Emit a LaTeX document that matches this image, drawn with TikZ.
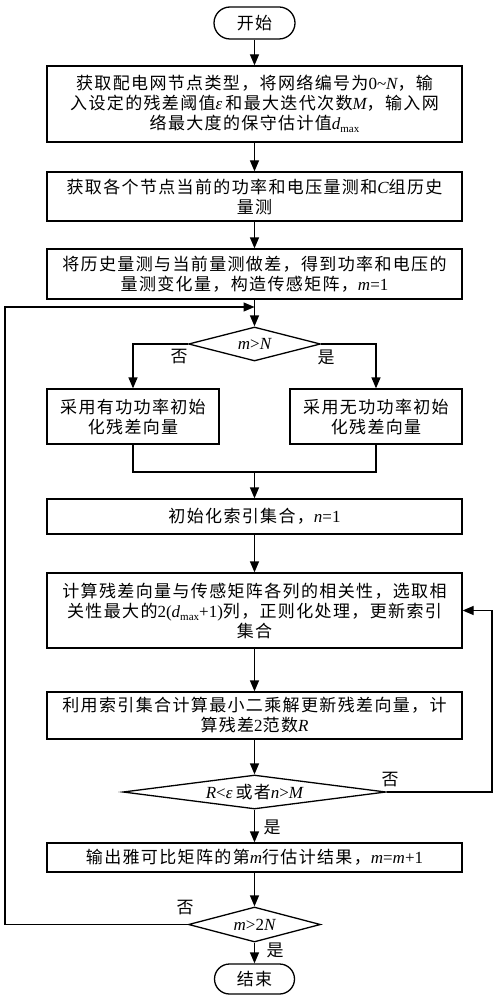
\documentclass[tikz,border=0pt]{standalone}
\usepackage{fontspec}
\setmainfont{Noto Sans CJK SC}[LetterSpace=8]
\newfontfamily\latfont{Liberation Serif}
\usetikzlibrary{arrows.meta,shapes.geometric}
\newcommand\itx[1]{{\latfont\itshape #1}}
\newcommand\rmx[1]{{\latfont #1}}
\newcommand\dmax{\itx{d}\raisebox{-0.35ex}{\latfont\fontsize{11}{11}\selectfont max}}
\tikzset{
  txt/.style={font=\fontsize{17}{20}\selectfont},
  box/.style={txt, draw, line width=1.3pt, minimum width=415pt, inner sep=0pt, align=center},
  term/.style={txt, draw, line width=1.3pt, inner sep=0pt},
  dec/.style={txt, draw, diamond, line width=1.3pt, inner sep=0pt},
  lab/.style={txt, inner sep=0pt},
  arr/.style={line width=1.3pt, -{Triangle[length=11pt,width=9pt]}},
  ln/.style={line width=1.3pt}
}
\begin{document}
\begin{tikzpicture}[x=1pt,y=-1pt]
\useasboundingbox[fill=white] (0,0) rectangle (497,1000);

\node[term, rounded corners=16pt, minimum width=81pt, minimum height=32pt] (start) at (254.5,23) {开始};

\node[box, minimum height=76pt] (b1) at (254.5,104)
 {获取配电网节点类型，将网络编号为\rmx{0\textasciitilde}\itx{N}，输\\
  入设定的残差阈值\itx{ε}\hspace{3pt}和最大迭代次数\itx{M}，输入网\\
  络最大度的保守估计值\dmax};

\node[box, minimum height=49pt] (b2) at (254.5,196.5)
 {获取各个节点当前的功率和电压量测和\itx{C}组历史\\量测};

\node[box, minimum height=50pt] (b3) at (254.5,274)
 {将历史量测与当前量测做差，得到功率和电压的\\量测变化量，构造传感矩阵，\itx{m}\rmx{=1}};

\node[dec, minimum width=132pt, minimum height=34pt, aspect=3.9] (d1) at (254.5,344)
 {\itx{m}\rmx{>}\itx{N}};

\node[box, minimum width=172pt, minimum height=55pt] (lb) at (133,416.5)
 {采用有功功率初始\\化残差向量};
\node[box, minimum width=172pt, minimum height=55pt] (rb) at (376,416.5)
 {采用无功功率初始\\化残差向量};

\node[box, minimum height=35pt] (b4) at (254.5,516.5)
 {初始化索引集合，\itx{n}\rmx{=1}};

\node[box, minimum height=75pt] (b5) at (254.5,610.5)
 {计算残差向量与传感矩阵各列的相关性，选取相\\
  关性最大的\rmx{2(}\dmax\rmx{+1)}列，正则化处理，更新索引\\
  集合};

\node[box, minimum height=47pt] (b6) at (254.5,715.5)
 {利用索引集合计算最小二乘解更新残差向量，计\\算残差\rmx{2}范数\itx{R}};

\node[dec, minimum width=263pt, minimum height=34pt, aspect=7.7] (d2) at (254.5,792)
 {\itx{R}\rmx{<}\itx{ε}\hspace{3pt}或者\itx{n}\rmx{>}\itx{M}};

\node[box, minimum height=29pt] (b7) at (254.5,857.5)
 {输出雅可比矩阵的第\itx{m}行估计结果，\itx{m}\rmx{=}\itx{m}\rmx{+1}};

\node[dec, minimum width=132pt, minimum height=35pt, aspect=3.8] (d3) at (254.5,924.5)
 {\itx{m}\rmx{>2}\itx{N}};

\node[term, rounded corners=15pt, minimum width=80pt, minimum height=30pt] (end) at (254.5,979) {结束};

% labels
\node[lab] (no1) at (179,357) {否};
\node[lab] (yes1) at (326,357) {是};
\node[lab] (no2) at (390,780) {否};
\node[lab] (yes2) at (272,827) {是};
\node[lab] (no3) at (185,908) {否};
\node[lab] (yes3) at (275,950) {是};

% connectors
\draw[arr] (start) -- (b1);
\draw[arr] (b1) -- (b2);
\draw[arr] (b2) -- (b3);
\draw[arr] (b3) -- (d1);
\draw[arr] (d1.west) -| (lb.north);
\draw[arr] (d1.east) -| (rb.north);
\coordinate (mg) at (254.5,472);
\draw[ln] (lb.south) |- (mg) -| (rb.south);
\draw[arr] (mg) -- (b4);
\draw[arr] (b4) -- (b5);
\draw[arr] (b5) -- (b6);
\draw[arr] (b6) -- (d2);
\draw[arr] (d2) -- (b7);
\draw[arr] (b7) -- (d3);
\draw[arr] (d3) -- (end);
\coordinate (rx) at (492,610.5);
\draw[arr] (d2.east) -| (rx) -- (b5.east);
\coordinate (lx) at (5,307);
\coordinate (lt) at (254.5,307);
\draw[arr] (d3.west) -| (lx) -- (lt);
\end{tikzpicture}
\end{document}
